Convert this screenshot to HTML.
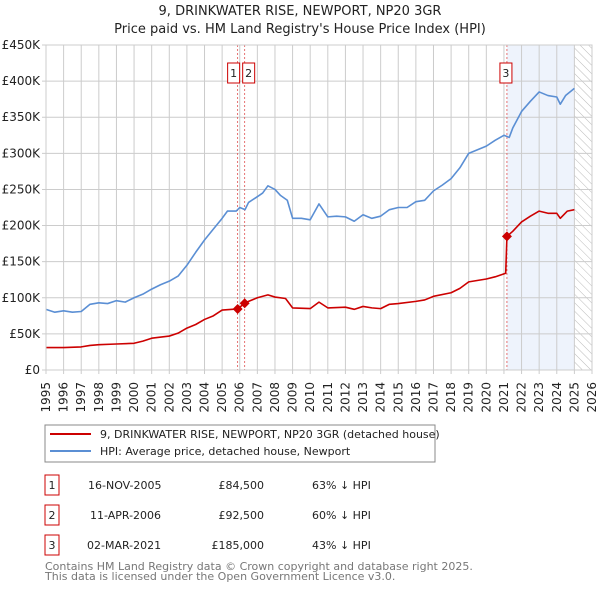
<!DOCTYPE html>
<html><head><meta charset="utf-8"><style>
body{margin:0;background:#fff;font-family:"DejaVu Sans","Liberation Sans",sans-serif;}
svg text{font-family:"DejaVu Sans","Liberation Sans",sans-serif;}
</style></head><body>
<svg id="chart" width="600" height="590" viewBox="0 0 600 590" xmlns="http://www.w3.org/2000/svg">
<defs><pattern id="hatch" width="6" height="6" patternUnits="userSpaceOnUse" patternTransform="rotate(-45)"><line x1="0" y1="0" x2="0" y2="6" stroke="#bbb" stroke-width="1"/></pattern></defs>
<text x="300" y="15" text-anchor="middle" font-size="13" fill="#222">9, DRINKWATER RISE, NEWPORT, NP20 3GR</text>
<text x="300" y="33" text-anchor="middle" font-size="13" fill="#222">Price paid vs. HM Land Registry's House Price Index (HPI)</text>
<g id="plot"></g>
<rect x="45" y="425" width="390" height="37" fill="#fff" stroke="#888"/>
<line x1="50" y1="434" x2="91" y2="434" stroke="#cc0000" stroke-width="2"/>
<text x="100" y="438" font-size="11" fill="#222">9, DRINKWATER RISE, NEWPORT, NP20 3GR (detached house)</text>
<line x1="50" y1="451" x2="91" y2="451" stroke="#5b8fd4" stroke-width="2"/>
<text x="100" y="455" font-size="11" fill="#222">HPI: Average price, detached house, Newport</text>
<g font-size="11" fill="#222">
<rect x="45" y="475" width="14" height="20" fill="#fff" stroke="#cc0000"/><text x="52" y="489" text-anchor="middle">1</text>
<text x="88" y="489">16-NOV-2005</text><text x="264" y="489" text-anchor="end">£84,500</text><text x="312" y="489">63% ↓ HPI</text>
<rect x="45" y="505" width="14" height="20" fill="#fff" stroke="#cc0000"/><text x="52" y="519" text-anchor="middle">2</text>
<text x="90" y="519">11-APR-2006</text><text x="264" y="519" text-anchor="end">£92,500</text><text x="312" y="519">60% ↓ HPI</text>
<rect x="45" y="535" width="14" height="20" fill="#fff" stroke="#cc0000"/><text x="52" y="549" text-anchor="middle">3</text>
<text x="87" y="549">02-MAR-2021</text><text x="264" y="549" text-anchor="end">£185,000</text><text x="312" y="549">43% ↓ HPI</text>
</g>
<text x="45" y="570" font-size="11" fill="#777">Contains HM Land Registry data © Crown copyright and database right 2025.</text>
<text x="45" y="580" font-size="11" fill="#777">This data is licensed under the Open Government Licence v3.0.</text>
</svg>
<script>
const yearTicks=[1995,1996,1997,1998,1999,2000,2001,2002,2003,2004,2005,2006,2007,2008,2009,2010,2011,2012,2013,2014,2015,2016,2017,2018,2019,2020,2021,2022,2023,2024,2025,2026];
const valueTicks=[0,50000,100000,150000,200000,250000,300000,350000,400000,450000];
const valueLabels=["£0","£50K","£100K","£150K","£200K","£250K","£300K","£350K","£400K","£450K"];
const hpiYears=[1995,1995.5,1996,1996.5,1997,1997.5,1998,1998.5,1999,1999.5,2000,2000.5,2001,2001.5,2002,2002.5,2003,2003.5,2004,2004.5,2005,2005.3,2005.8,2006,2006.3,2006.5,2007,2007.3,2007.6,2008,2008.3,2008.7,2009,2009.5,2010,2010.5,2011,2011.5,2012,2012.5,2013,2013.5,2014,2014.5,2015,2015.5,2016,2016.5,2017,2017.5,2018,2018.5,2019,2019.5,2020,2020.5,2021,2021.3,2021.5,2022,2022.5,2023,2023.5,2024,2024.2,2024.5,2025];
const hpiValues=[84000,80000,82000,80000,81000,91000,93000,92000,96000,94000,100000,105000,112000,118000,123000,130000,145000,163000,180000,195000,210000,220000,220000,225000,222000,232000,240000,245000,255000,250000,242000,235000,210000,210000,208000,230000,212000,213000,212000,206000,215000,210000,213000,222000,225000,225000,233000,235000,248000,256000,265000,280000,300000,305000,310000,318000,325000,322000,335000,358000,372000,385000,380000,378000,368000,380000,390000];
const propYears=[1995,1996,1997,1997.5,1998,1999,2000,2000.5,2001,2002,2002.5,2003,2003.5,2004,2004.5,2005,2005.88,2006.28,2006.5,2007,2007.6,2008,2008.6,2009,2010,2010.5,2011,2012,2012.5,2013,2013.5,2014,2014.5,2015,2016,2016.5,2017,2018,2018.5,2019,2020,2020.5,2021.1,2021.17,2021.5,2022,2022.5,2023,2023.5,2024,2024.2,2024.6,2025];
const propValues=[31000,31000,32000,34000,35000,36000,37000,40000,44000,47000,51000,58000,63000,70000,75000,83000,84500,92500,95000,100000,104000,101000,99000,86000,85000,94000,86000,87000,84000,88000,86000,85000,91000,92000,95000,97000,102000,107000,113000,122000,126000,129000,134000,185000,192000,205000,213000,220000,217000,217000,210000,220000,222000];
const saleYears=[2005.88,2006.28,2021.17];
const saleValues=[84500,92500,185000];
const saleLabels=["1","2","3"];
const NS="http://www.w3.org/2000/svg";
const X0=46,X1=592,Y0=370,Y1=45;
const xs=y=>X0+(y-1995)/(2026-1995)*(X1-X0);
const ys=v=>Y0-v/450000*(Y0-Y1);
const g=document.getElementById('plot');
function mk(t,a){const e=document.createElementNS(NS,t);for(const k in a)e.setAttribute(k,a[k]);g.appendChild(e);return e;}
let e=mk('rect',{x:xs(2021.17),y:Y1,width:xs(2025.0)-xs(2021.17),height:Y0-Y1,fill:'#eef3fc'});


e=mk('rect',{x:xs(2025.0),y:Y1,width:X1-xs(2025.0),height:Y0-Y1,fill:'url(#hatch)'});


yearTicks.forEach(y=>{
 const l=mk('line',{x1:xs(y),x2:xs(y),y1:Y1,y2:Y0+4,stroke:'#cccccc'});
 
 
 const t=mk('text',{x:xs(y),y:Y0+8,'font-size':12,fill:'#222','text-anchor':'end',transform:`rotate(-90 ${xs(y)+4} ${Y0+8})`});
 t.textContent=y;
 
 
});
valueTicks.forEach((v,i)=>{
 const l=mk('line',{x1:X0-4,x2:X1,y1:ys(v),y2:ys(v),stroke:'#cccccc'});
 
 
 const t=mk('text',{x:X0-6,y:ys(v)+4,'font-size':12,fill:'#222','text-anchor':'end'});
 t.textContent=valueLabels[i];
 
 
});
saleYears.forEach(y=>{
 const l=mk('line',{x1:xs(y),x2:xs(y),y1:Y1,y2:Y0,stroke:'#e05050','stroke-dasharray':'2,2','stroke-width':0.8});
 
 
});
function line(xa,va,col,name){
 const p=mk('polyline',{points:xa.map((x,i)=>xs(x)+','+ys(va[i])).join(' '),fill:'none',stroke:col,'stroke-width':1.6,'stroke-linejoin':'round'});
 
 
}
line(hpiYears,hpiValues,'#5b8fd4','hpi-line');
line(propYears,propValues,'#cc0000','property-line');
saleYears.forEach((y,i)=>{
 const cx=xs(y),cy=ys(saleValues[i]);
 const d=mk('polygon',{points:`${cx},${cy-5} ${cx+5},${cy} ${cx},${cy+5} ${cx-5},${cy}`,fill:'#cc0000'});
 
 
 const off=i==0?-4:(i==1?4:-1);
 const b=mk('rect',{x:cx+off-6,y:63,width:12,height:20,fill:'#fff',stroke:'#cc0000'});
 
 
 const t=mk('text',{x:cx+off,y:77,'font-size':11,fill:'#222','text-anchor':'middle'});
 t.textContent=saleLabels[i];
 
 
});
e=mk('rect',{x:X0,y:Y1,width:X1-X0,height:Y0-Y1,fill:'none',stroke:'#cccccc'});


</script>
</body></html>
